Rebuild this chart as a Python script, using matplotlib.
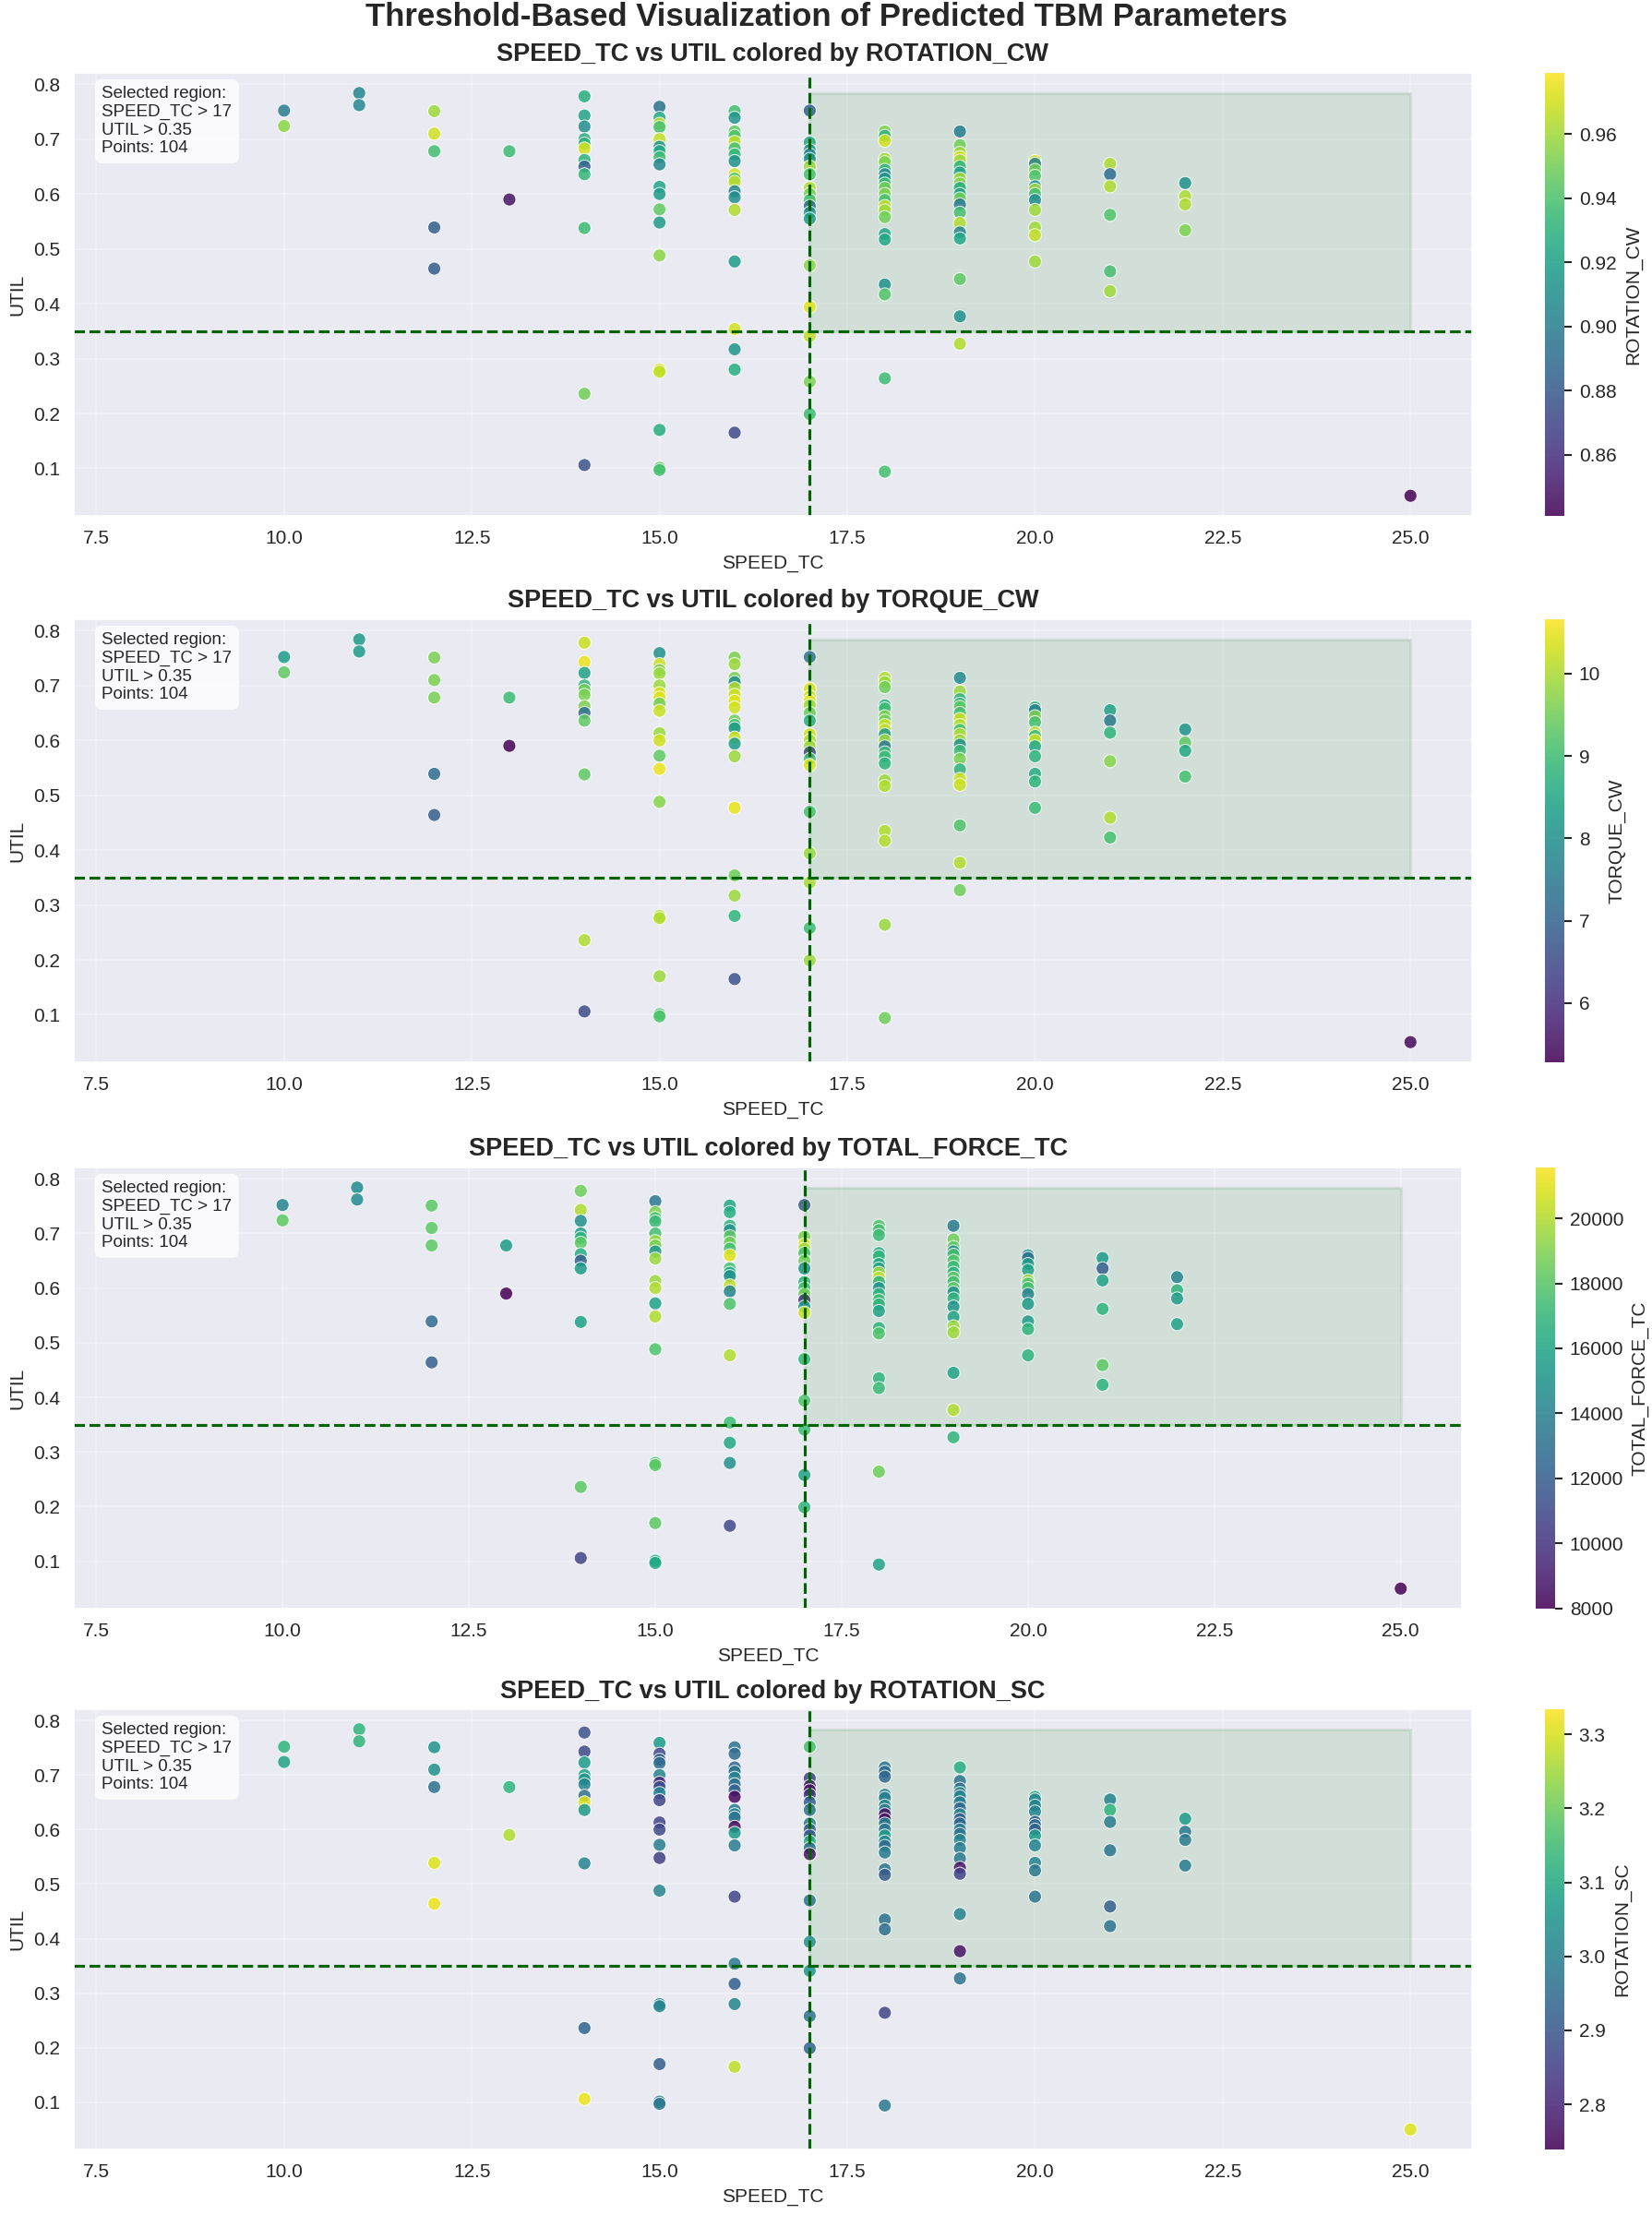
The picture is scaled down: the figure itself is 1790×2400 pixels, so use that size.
import numpy as np
import matplotlib
matplotlib.use('Agg')
import matplotlib.pyplot as plt
import matplotlib.patches as patches
import seaborn as sns

# thresholds used for the selected region
speed_threshold = 17
util_threshold = 0.35
points_in_region = 104

# predicted values, grouped by SPEED_TC column
speed_tc = [10, 10,
            11, 11,
            12, 12, 12, 12, 12,
            13, 13,
            14, 14, 14, 14, 14, 14, 14, 14, 14, 14, 14, 14,
            15, 15, 15, 15, 15, 15, 15, 15, 15, 15, 15, 15, 15, 15, 15, 15, 15, 15, 15,
            16, 16, 16, 16, 16, 16, 16, 16, 16, 16, 16, 16, 16, 16, 16, 16, 16, 16, 16,
            17, 17, 17, 17, 17, 17, 17, 17, 17, 17, 17, 17, 17, 17, 17, 17, 17, 17,
            18, 18, 18, 18, 18, 18, 18, 18, 18, 18, 18, 18, 18, 18, 18, 18, 18, 18, 18, 18, 18,
            19, 19, 19, 19, 19, 19, 19, 19, 19, 19, 19, 19, 19, 19, 19, 19, 19, 19, 19, 19,
            20, 20, 20, 20, 20, 20, 20, 20, 20, 20, 20, 20,
            21, 21, 21, 21, 21, 21,
            22, 22, 22, 22,
            25]

util = [0.752, 0.724,
        0.784, 0.762,
        0.751, 0.710, 0.678, 0.539, 0.464,
        0.678, 0.590,
        0.778, 0.743, 0.723, 0.700, 0.692, 0.683, 0.662, 0.650, 0.636, 0.538, 0.236, 0.106,
        0.759, 0.739, 0.728, 0.722, 0.700, 0.686, 0.678, 0.667, 0.654, 0.613, 0.600, 0.572, 0.548, 0.488,
        0.280, 0.276, 0.170, 0.101, 0.097,
        0.751, 0.739, 0.714, 0.706, 0.695, 0.683, 0.672, 0.660, 0.636, 0.628, 0.622, 0.605, 0.594, 0.571,
        0.477, 0.354, 0.317, 0.280, 0.165,
        0.752, 0.694, 0.680, 0.672, 0.664, 0.650, 0.636, 0.611, 0.600, 0.589, 0.578, 0.566, 0.555, 0.470,
        0.394, 0.341, 0.258, 0.199,
        0.714, 0.706, 0.697, 0.664, 0.658, 0.644, 0.636, 0.628, 0.619, 0.611, 0.600, 0.589, 0.578, 0.570,
        0.558, 0.527, 0.517, 0.435, 0.417, 0.264, 0.094,
        0.714, 0.689, 0.675, 0.667, 0.661, 0.650, 0.639, 0.628, 0.619, 0.611, 0.600, 0.592, 0.581, 0.566,
        0.547, 0.530, 0.519, 0.445, 0.377, 0.327,
        0.660, 0.655, 0.644, 0.633, 0.614, 0.608, 0.600, 0.589, 0.571, 0.539, 0.525, 0.477,
        0.655, 0.636, 0.614, 0.562, 0.459, 0.423,
        0.620, 0.596, 0.581, 0.534,
        0.050]

rotation_cw = [0.899, 0.955,
               0.904, 0.906,
               0.959, 0.969, 0.938, 0.883, 0.880,
               0.936, 0.848,
               0.927, 0.922, 0.908, 0.927, 0.931, 0.970, 0.931, 0.883, 0.933, 0.936, 0.949, 0.876,
               0.894, 0.924, 0.966, 0.938, 0.966, 0.911, 0.924, 0.936, 0.904, 0.922, 0.917, 0.945, 0.917, 0.955,
               0.969, 0.966, 0.927, 0.945, 0.938,
               0.938, 0.913, 0.945, 0.941, 0.966, 0.938, 0.933, 0.911, 0.969, 0.941, 0.966, 0.904, 0.908, 0.963,
               0.917, 0.969, 0.913, 0.927, 0.872,
               0.883, 0.924, 0.911, 0.904, 0.911, 0.959, 0.938, 0.963, 0.949, 0.938, 0.890, 0.911, 0.917, 0.955,
               0.973, 0.966, 0.952, 0.936,
               0.952, 0.931, 0.969, 0.959, 0.952, 0.931, 0.908, 0.911, 0.936, 0.949, 0.952, 0.938, 0.966, 0.959,
               0.949, 0.922, 0.924, 0.911, 0.941, 0.936, 0.938,
               0.899, 0.949, 0.959, 0.969, 0.959, 0.931, 0.922, 0.959, 0.952, 0.927, 0.922, 0.949, 0.897, 0.938,
               0.963, 0.904, 0.924, 0.945, 0.911, 0.963,
               0.969, 0.899, 0.949, 0.941, 0.913, 0.959, 0.938, 0.908, 0.959, 0.959, 0.966, 0.959,
               0.962, 0.890, 0.962, 0.941, 0.938, 0.959,
               0.911, 0.962, 0.962, 0.952,
               0.841]

torque_cw = [8.24, 9.32,
             8.24, 8.24,
             9.58, 9.58, 9.58, 7.16, 6.89,
             8.94, 5.28,
             10.23, 10.50, 8.40, 8.78, 9.48, 9.58, 9.58, 7.16, 9.32, 9.32, 10.01, 6.46,
             7.97, 10.23, 9.58, 9.85, 9.85, 10.39, 10.39, 9.48, 10.23, 9.85, 10.28, 9.32, 10.50, 9.69,
             10.01, 10.01, 9.85, 9.15, 9.15,
             9.58, 9.85, 9.58, 7.97, 10.01, 10.23, 10.39, 10.28, 9.48, 9.05, 8.24, 10.23, 8.24, 9.85,
             10.50, 9.48, 9.85, 8.78, 6.63,
             7.32, 10.39, 10.28, 10.39, 9.85, 9.48, 8.62, 10.28, 10.01, 9.85, 6.36, 8.94, 10.39, 9.05,
             9.85, 9.96, 8.94, 9.85,
             10.01, 9.85, 9.48, 8.78, 8.94, 9.58, 9.48, 10.23, 10.12, 8.24, 9.85, 7.43, 8.94, 8.94,
             8.78, 9.85, 10.01, 10.01, 10.01, 9.85, 9.48,
             7.86, 9.85, 8.78, 8.94, 9.32, 9.05, 10.23, 10.01, 9.05, 10.01, 9.85, 7.97, 8.94, 9.58,
             8.78, 10.23, 10.23, 9.15, 10.01, 9.48,
             8.78, 7.54, 9.58, 9.05, 10.12, 8.94, 10.23, 8.51, 8.78, 8.62, 8.78, 8.94,
             8.40, 7.43, 8.78, 9.69, 10.01, 9.05,
             8.08, 9.32, 8.51, 9.05,
             5.39]

total_force_tc = [14100, 18170,
                  14510, 14510,
                  18170, 18170, 18170, 12740, 12060,
                  15460, 7990,
                  18580, 19940, 14780, 15460, 16810, 18170, 16410, 12060, 15460, 15860, 18170, 10700,
                  13420, 18850, 17490, 17220, 17490, 19530, 18850, 15460, 19530, 19530, 19940, 15860, 19940, 17760,
                  17760, 18170, 18170, 16140, 16140,
                  16140, 16410, 16810, 14780, 18170, 18580, 17490, 20890, 17490, 16140, 14780, 20210, 14100, 17760,
                  19940, 17220, 16140, 14780, 10980,
                  11790, 18850, 20890, 19530, 17490, 18580, 14780, 16810, 17490, 18580, 10030, 15460, 20480, 16810,
                  17760, 17220, 15860, 16810,
                  17760, 17490, 17220, 16410, 16810, 16140, 15860, 19530, 20210, 16810, 14780, 16810, 17220, 16810,
                  15860, 16810, 17760, 16810, 17220, 18580, 15860,
                  13690, 18580, 18170, 14780, 17490, 17760, 17220, 16810, 18170, 17490, 18170, 14780, 16810, 15050,
                  15860, 19530, 19530, 15860, 19940, 16810,
                  14780, 13150, 15460, 15860, 19530, 17760, 17490, 14100, 15460, 15460, 16810, 16810,
                  15460, 12060, 15860, 16810, 18170, 16810,
                  14100, 16810, 15460, 15860,
                  7990]

rotation_sc = [3.126, 3.084,
               3.126, 3.126,
               3.048, 3.037, 2.965, 3.304, 3.316,
               3.126, 3.263,
               2.888, 2.870, 3.066, 3.084, 3.048, 3.007, 2.965, 3.304, 3.066, 3.007, 2.929, 3.316,
               3.066, 2.870, 2.918, 2.947, 3.007, 2.799, 2.888, 3.007, 2.858, 2.858, 2.870, 2.989, 2.846, 3.007,
               3.007, 3.007, 2.918, 2.977, 2.977,
               2.965, 2.947, 2.935, 2.965, 3.007, 2.947, 2.918, 2.751, 2.989, 3.007, 2.965, 2.757, 3.066, 2.989,
               2.858, 2.977, 2.918, 3.007, 3.275,
               3.156, 2.858, 2.787, 2.769, 2.828, 2.918, 2.965, 2.989, 2.918, 2.906, 3.108, 2.947, 2.769, 2.965,
               3.037, 3.048, 2.965, 2.929,
               2.965, 2.947, 2.935, 3.007, 2.989, 3.007, 2.977, 2.769, 2.769, 3.007, 2.965, 3.066, 3.007, 2.947,
               2.989, 2.965, 2.906, 2.965, 2.953, 2.858, 2.977,
               3.108, 2.965, 2.965, 3.007, 3.007, 2.989, 2.935, 3.007, 2.918, 2.935, 2.989, 2.965, 3.007, 2.989,
               2.977, 2.769, 2.858, 3.007, 2.769, 2.965,
               3.108, 3.007, 3.007, 3.007, 2.918, 2.935, 2.929, 3.066, 3.007, 3.007, 2.977, 2.965,
               3.007, 3.126, 2.989, 2.965, 2.918, 2.965,
               3.066, 2.977, 2.989, 2.989,
               3.304]

# colour parameter for each panel, with the colorbar limits
color_names = ['ROTATION_CW', 'TORQUE_CW', 'TOTAL_FORCE_TC', 'ROTATION_SC']
color_values = [rotation_cw, torque_cw, total_force_tc, rotation_sc]
color_limits = [(0.841, 0.979), (5.28, 10.66), (7990, 21565), (2.739, 3.334)]

# layout in figure pixels (left, top, right, bottom) for each axes and its colorbar
W, H = 1790, 2400
axes_px = [(80, 79, 1595, 559), (80, 671, 1595, 1151), (80, 1265, 1584, 1743), (80, 1852, 1595, 2329)]
cbar_px = [(1674, 1695), (1674, 1695), (1664, 1685), (1674, 1695)]


def px_rect(left, top, right, bottom):
    return [left / W, 1 - bottom / H, (right - left) / W, (bottom - top) / H]


def draw_panel(ax, cax, fig, name, values, limits):
    x = np.array(speed_tc)
    y = np.array(util)

    # shaded region above both thresholds
    rect = patches.Rectangle((speed_threshold, util_threshold), x.max() - speed_threshold,
                             y.max() - util_threshold, linewidth=1.5, edgecolor='darkgreen',
                             facecolor='green', alpha=0.1)
    ax.add_patch(rect)

    sc = ax.scatter(x, y, c=values, cmap='viridis', vmin=limits[0], vmax=limits[1],
                    s=46, alpha=0.85, edgecolors='white', linewidths=0.5)

    ax.axvline(speed_threshold, color='darkgreen', linestyle='--', linewidth=1.5)
    ax.axhline(util_threshold, color='darkgreen', linestyle='--', linewidth=1.5)

    txt = 'Selected region:\nSPEED_TC > {}\nUTIL > {}\nPoints: {}'.format(
        speed_threshold, util_threshold, points_in_region)
    ax.text(0.02, 0.97, txt, transform=ax.transAxes, va='top', fontsize=9,
            bbox=dict(boxstyle='round,pad=0.4', facecolor='white', edgecolor='none', alpha=0.8))

    ax.set_xlim(7.2, 25.82)
    ax.grid(True, alpha=0.3)
    ax.set_xlabel('SPEED_TC', fontsize=10)
    ax.set_ylabel('UTIL', fontsize=10)
    ax.set_title('SPEED_TC vs UTIL colored by {}'.format(name), fontsize=13, fontweight='bold')
    ax.tick_params(labelsize=10)

    cbar = fig.colorbar(sc, cax=cax)
    cbar.set_label(name, fontsize=10)
    cbar.ax.tick_params(labelsize=10, length=4, width=1, color='.15')
    cbar.outline.set_visible(False)


def main():
    sns.set_style('darkgrid')
    plt.rcParams['font.family'] = ['Liberation Sans', 'DejaVu Sans']

    fig = plt.figure(figsize=(W / 150, H / 150))
    for i in range(4):
        ax = fig.add_axes(px_rect(*axes_px[i]))
        top, bottom = axes_px[i][1], axes_px[i][3]
        cax = fig.add_axes(px_rect(cbar_px[i][0], top, cbar_px[i][1], bottom))
        draw_panel(ax, cax, fig, color_names[i], color_values[i], color_limits[i])

    fig.suptitle('Threshold-Based Visualization of Predicted TBM Parameters', fontsize=16.7,
                 fontweight='bold', y=0.999, va='top')
    fig.savefig('out.png', dpi=150)
    plt.close(fig)


if __name__ == '__main__':
    main()
